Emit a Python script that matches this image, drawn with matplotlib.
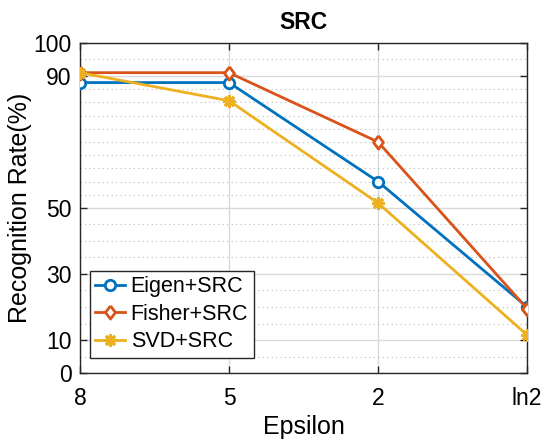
import matplotlib
matplotlib.use('Agg')
import matplotlib.pyplot as plt
import numpy as np

plt.rcParams['font.family'] = ['Liberation Sans', 'DejaVu Sans']

# data
epsilon_labels = ['8', '5', '2', 'ln2']
eigen_src = [88, 88, 58, 20]
fisher_src = [91, 91, 70, 19.5]
svd_src = [91, 82.5, 51.5, 11.5]
y_ticks = [0, 10, 30, 50, 90, 100]
y_minor = [5, 15, 20, 25, 35, 40, 45, 54, 58, 62, 66, 70, 74, 78, 82, 86, 95]

x = np.arange(1, len(epsilon_labels) + 1)

# matlab style diamond, a bit taller than wide
diamond = [(0, 1), (0.75, 0), (0, -1), (-0.75, 0), (0, 1)]

fig = plt.figure(figsize=(5.44, 4.43), dpi=100)
ax = fig.add_axes([0.147, 0.158, 0.822, 0.745])

ax.plot(x, eigen_src, color='#0072BD', lw=2, marker='o', ms=7.5, mfc='white',
        mew=2, label='Eigen+SRC', zorder=3)
ax.plot(x, fisher_src, color='#D95319', lw=2, marker=diamond, ms=9.5, mfc='white',
        mew=2, label='Fisher+SRC', zorder=3)
ax.plot(x, svd_src, color='#EDB120', lw=2, marker=(8, 2, 0), ms=9, mew=2.2,
        label='SVD+SRC', zorder=3)

ax.set_xlim(1, 4)
ax.set_ylim(0, 100)
ax.set_xticks(x)
ax.set_xticklabels(epsilon_labels)
ax.set_yticks(y_ticks)
ax.set_yticks(y_minor, minor=True)

ax.grid(True, which='major', color='#d9d9d9', lw=1)
ax.grid(True, which='minor', axis='y', color='#bbbbbb', lw=0.8, ls=(0, (1, 3)))
ax.set_axisbelow(True)

ax.tick_params(which='major', direction='in', length=5, width=1, top=True,
               right=True, labelsize=16.5, colors='#262626', labelcolor='black')
ax.tick_params(axis='x', pad=10)
ax.tick_params(axis='y', pad=6)
ax.tick_params(which='minor', length=0)
for s in ax.spines.values():
    s.set_color('#262626')
    s.set_linewidth(1)

ax.set_xlabel('Epsilon', fontsize=18, labelpad=4)
ax.set_ylabel('Recognition Rate(%)', fontsize=18, labelpad=1)
ax.set_title('SRC', fontsize=16.5, fontweight='bold', pad=10)

leg = ax.legend(loc='lower left', bbox_to_anchor=(0.022, 0.046), fontsize=15.5,
                fancybox=False, edgecolor='#262626', framealpha=1,
                borderpad=0.25, handlelength=1.4, handletextpad=0.25,
                labelspacing=0.31, borderaxespad=0)
leg.get_frame().set_linewidth(1)

fig.savefig('out.png', dpi=100)
